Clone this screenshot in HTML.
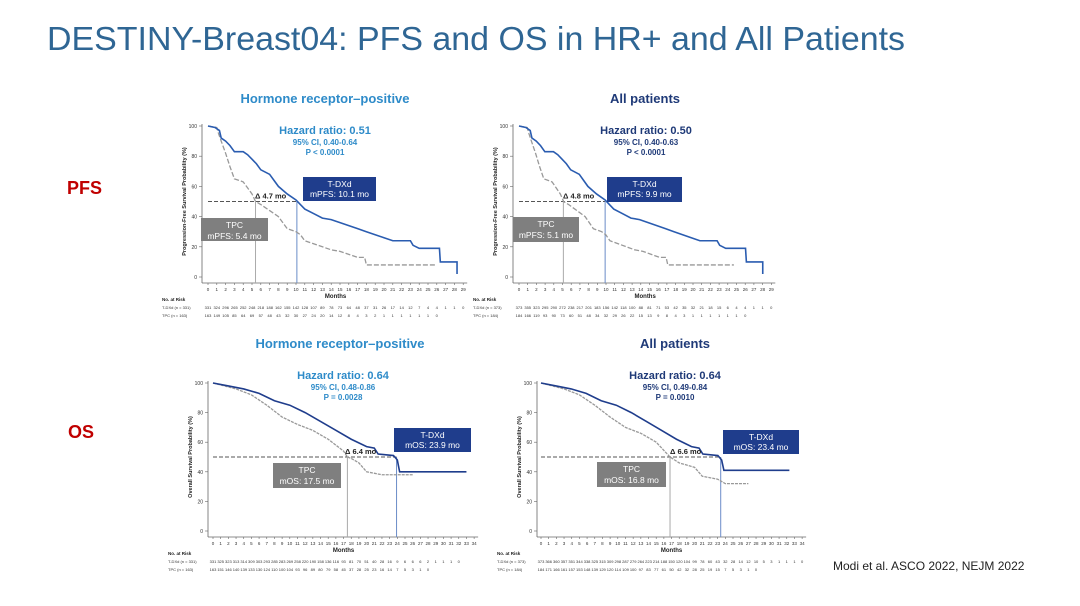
<!DOCTYPE html>
<html><head><meta charset="utf-8"><style>
html,body{margin:0;padding:0;background:#fff;width:1080px;height:606px;overflow:hidden}
svg{display:block;font-family:"Liberation Sans",Arial,sans-serif}
</style></head><body>
<svg id="s" width="1080" height="606" viewBox="0 0 1080 606" xmlns="http://www.w3.org/2000/svg">
<text x="47" y="50" font-size="33" fill="#2f6694" textLength="858" lengthAdjust="spacingAndGlyphs">DESTINY-Breast04: PFS and OS in HR+ and All Patients</text>
<text x="67" y="194" font-size="18" font-weight="bold" fill="#c00000">PFS</text>
<text x="68" y="438" font-size="18" font-weight="bold" fill="#c00000">OS</text>
<text x="833" y="570" font-size="12" fill="#222">Modi et al. ASCO 2022, NEJM 2022</text>
</svg>
<script>
const S=document.getElementById('s'),NS='http://www.w3.org/2000/svg';
function el(t,a,txt){const e=document.createElementNS(NS,t);for(const k in a)e.setAttribute(k,a[k]);if(txt!=null)e.textContent=txt;S.appendChild(e);return e;}
function chart(c){
 const X=m=>c.x0+m*c.sx,Y=p=>c.y0-p*c.sy;
 el('text',{x:c.tc,y:c.ty,'font-size':13,'font-weight':'bold',fill:c.tcol,'text-anchor':'middle'},c.title);
 el('text',{x:c.hc,y:c.hy,'font-size':11,'font-weight':'bold',fill:c.tcol,'text-anchor':'middle'},'Hazard ratio: '+c.hr);
 el('text',{x:c.hc,y:c.hy+11,'font-size':8,'font-weight':'bold',fill:c.tcol,'text-anchor':'middle'},'95% CI, '+c.ci);
 el('text',{x:c.hc,y:c.hy+21,'font-size':8,'font-weight':'bold',fill:c.tcol,'text-anchor':'middle'},c.p);
 el('line',{x1:c.ax,y1:Y(100)-2,x2:c.ax,y2:c.y0+6,stroke:'#666','stroke-width':0.8});
 el('line',{x1:c.ax,y1:c.y0+6,x2:X(c.nm)+4,y2:c.y0+6,stroke:'#666','stroke-width':0.8});
 for(let v=0;v<=100;v+=20){el('line',{x1:c.ax-3,y1:Y(v),x2:c.ax,y2:Y(v),stroke:'#666','stroke-width':0.6});
  el('text',{x:c.ax-5,y:Y(v)+2,'font-size':5,fill:'#333','text-anchor':'end'},v);}
 for(let m=0;m<=c.nm;m++){el('line',{x1:X(m),y1:c.y0+6,x2:X(m),y2:c.y0+8,stroke:'#666','stroke-width':0.6});
  el('text',{x:X(m),y:c.y0+14,'font-size':4.5,fill:'#333','text-anchor':'middle'},m);}
 el('text',{x:(X(0)+X(c.nm))/2,y:c.y0+21,'font-size':6,'font-weight':'bold',fill:'#222','text-anchor':'middle'},'Months');
 const cy=(Y(100)+c.y0)/2;
 el('text',{x:c.ax-16,y:cy,'font-size':5.5,'font-weight':'bold',fill:'#222','text-anchor':'middle',transform:`rotate(-90 ${c.ax-16} ${cy})`},c.ylab);
 el('text',{x:c.ax-40,y:c.y0+24,'font-size':4.5,'font-weight':'bold',fill:'#222'},'No. at Risk');
 el('text',{x:c.ax-40,y:c.y0+32,'font-size':4,fill:'#333'},'T-DXd (n = '+c.n1+')');
 el('text',{x:c.ax-40,y:c.y0+40,'font-size':4,fill:'#333'},'TPC (n = '+c.n2+')');
 c.r1.forEach((v,i)=>el('text',{x:X(i),y:c.y0+32,'font-size':4,fill:'#333','text-anchor':'middle'},v));
 c.r2.forEach((v,i)=>el('text',{x:X(i),y:c.y0+40,'font-size':4,fill:'#333','text-anchor':'middle'},v));
 el('line',{x1:X(0),y1:Y(50),x2:X(c.m1),y2:Y(50),stroke:'#555','stroke-width':0.9,'stroke-dasharray':'4 2'});
 el('line',{x1:X(c.m2),y1:Y(50),x2:X(c.m2),y2:c.y0+6,stroke:'#aaa','stroke-width':1});
 el('line',{x1:X(c.m1),y1:Y(50),x2:X(c.m1),y2:c.y0+6,stroke:'#6a8cc8','stroke-width':1});
 const lin=pts=>'M'+pts.map(p=>X(p[0])+' '+Y(p[1])).join(' L');
 el('path',{d:lin(c.tpc),fill:'none',stroke:'#999','stroke-width':1.3,'stroke-dasharray':c.tpcdash});
 el('path',{d:lin(c.tdx),fill:'none',stroke:c.bcol,'stroke-width':1.6});
 el('text',{x:c.dx,y:Y(50)-3,'font-size':7.5,'font-weight':'bold',fill:'#222'},'Δ '+c.delta+' mo');
 const b=c.bb;el('rect',{x:b[0],y:b[1],width:b[2]-b[0],height:b[3]-b[1],fill:'#1f3d8c'});
 el('text',{x:(b[0]+b[2])/2,y:b[1]+10,'font-size':8.5,fill:'#fff','text-anchor':'middle'},'T-DXd');
 el('text',{x:(b[0]+b[2])/2,y:b[1]+20,'font-size':8.5,fill:'#fff','text-anchor':'middle'},c.l1);
 const g=c.gb;el('rect',{x:g[0],y:g[1],width:g[2]-g[0],height:g[3]-g[1],fill:'#7f7f7f'});
 el('text',{x:(g[0]+g[2])/2,y:g[1]+10,'font-size':8.5,fill:'#fff','text-anchor':'middle'},'TPC');
 el('text',{x:(g[0]+g[2])/2,y:g[1]+21,'font-size':8.5,fill:'#fff','text-anchor':'middle'},c.l2);
}
const pfsT=[[0,100],[0.8,99],[1.3,97],[1.5,92],[2,90],[2.5,87],[3,83],[4,83],[4.5,81],[5,78],[5.5,75],[6,71],[7,68],[7.5,64],[8,60],[9,55],[10,51],[10.5,48],[11,45],[12,42],[13,39],[14,38],[15,36],[16,34],[17,32],[18,30],[19,28],[20,26],[21,24],[23,24],[23.3,21],[24,19],[26.3,19],[26.4,10],[28,10],[28.3,10],[28.3,2]];
const pfsC=[[0,100],[1,99],[1.2,95],[1.5,90],[2,82],[2.5,73],[3,65],[4,63],[4.5,59],[5,55],[5.4,50],[6,48],[7,44],[8,40],[8.5,36],[9,32],[10,30],[10.5,28],[11,24],[12,22],[13,20],[14,18],[15,17],[16,15],[17,13],[17.8,13],[18,8],[26,8]];
const osT=[[0,100],[2,98],[4,96],[6,93],[8,88],[10,85],[12,80],[14,74],[16,68],[18,62],[20,57],[21,56],[21.5,52],[23.5,51],[24,48],[24.3,40],[33,40]];
const osC=[[0,100],[3,96],[5,92],[7,85],[9,77],[11,72],[13,68],[15,62],[17,54],[17.5,50],[18,49],[19,46],[20,40],[22,38],[26,38]];
const osC2=[[0,100],[3,96],[5,92],[7,85],[9,77],[11,70],[13,66],[15,60],[16.8,50],[18,46],[20,43],[21,37],[23,35],[24,32],[27,32]];
const pr1='331 324 296 265 252 248 218 188 162 155 142 128 107 89 78 73 64 48 37 31 26 17 14 12 7 4 4 1 1 0'.split(' ');
const pr2='163 149 105 85 64 69 57 48 43 32 30 27 24 20 14 12 8 4 3 2 1 1 1 1 1 1 0'.split(' ');
const ar1='373 355 323 295 290 272 238 217 201 183 156 142 118 100 88 81 71 53 42 35 32 21 18 15 6 4 4 1 1 0'.split(' ');
const ar2='184 166 119 93 90 73 60 51 48 34 32 29 26 22 15 13 9 8 4 3 1 1 1 1 1 1 0'.split(' ');
const or1='331 325 323 313 314 309 303 293 285 283 269 258 220 190 158 136 116 93 81 70 51 40 28 16 9 6 6 6 2 1 1 1 0'.split(' ');
const or2='163 151 146 140 139 133 130 124 110 100 104 93 96 89 80 79 58 45 37 28 25 23 16 14 7 5 3 1 0'.split(' ');
const oa1='373 366 360 357 351 344 338 325 315 309 298 287 279 264 223 214 188 150 120 104 99 78 60 43 32 28 14 12 10 5 3 1 1 1 0'.split(' ');
const oa2='184 171 166 161 157 153 148 139 129 120 114 109 100 97 83 77 61 50 42 32 28 25 19 15 7 5 3 1 0'.split(' ');
chart({x0:208,y0:277,sx:8.8,sy:1.51,ax:202,nm:29,title:'Hormone receptor–positive',tc:325,ty:103,tcol:'#2e8bc9',hc:325,hy:134,hr:'0.51',ci:'0.40-0.64',p:'P < 0.0001',ylab:'Progression-Free Survival Probability (%)',n1:331,n2:163,r1:pr1,r2:pr2,m1:10.1,m2:5.4,tdx:pfsT,tpc:pfsC,tpcdash:'5 2',bcol:'#2a5cb0',dx:255,delta:'4.7',bb:[303,177,376,201],l1:'mPFS: 10.1 mo',gb:[201,218,268,241],l2:'mPFS: 5.4 mo'});
chart({x0:519,y0:277,sx:8.7,sy:1.51,ax:513,nm:29,title:'All patients',tc:645,ty:103,tcol:'#1f3a78',hc:646,hy:134,hr:'0.50',ci:'0.40-0.63',p:'P < 0.0001',ylab:'Progression-Free Survival Probability (%)',n1:373,n2:184,r1:ar1,r2:ar2,m1:9.9,m2:5.1,tdx:pfsT.map(p=>[p[0]*0.99,p[1]]),tpc:pfsC.map(p=>[p[0]*0.95,p[1]]),tpcdash:'5 2',bcol:'#2a5cb0',dx:563,delta:'4.8',bb:[607,177,682,202],l1:'mPFS: 9.9 mo',gb:[513,217,579,242],l2:'mPFS: 5.1 mo'});
chart({x0:213,y0:531,sx:7.68,sy:1.48,ax:208,nm:34,title:'Hormone receptor–positive',tc:340,ty:348,tcol:'#2e8bc9',hc:343,hy:379,hr:'0.64',ci:'0.48-0.86',p:'P = 0.0028',ylab:'Overall Survival Probability (%)',n1:331,n2:163,r1:or1,r2:or2,m1:23.9,m2:17.5,tdx:osT,tpc:osC,tpcdash:'3 1',bcol:'#1f3d8c',dx:345,delta:'6.4',bb:[394,428,471,452],l1:'mOS: 23.9 mo',gb:[273,463,341,488],l2:'mOS: 17.5 mo'});
chart({x0:541,y0:531,sx:7.68,sy:1.48,ax:537,nm:34,title:'All patients',tc:675,ty:348,tcol:'#1f3a78',hc:675,hy:379,hr:'0.64',ci:'0.49-0.84',p:'P = 0.0010',ylab:'Overall Survival Probability (%)',n1:373,n2:184,r1:oa1,r2:oa2,m1:23.4,m2:16.8,tdx:osT.map(p=>[p[0]*0.98,p[1]===40?41:p[1]]),tpc:osC2,tpcdash:'3 1',bcol:'#1f3d8c',dx:670,delta:'6.6',bb:[723,430,799,454],l1:'mOS: 23.4 mo',gb:[597,462,666,487],l2:'mOS: 16.8 mo'});
</script>
</body></html>
